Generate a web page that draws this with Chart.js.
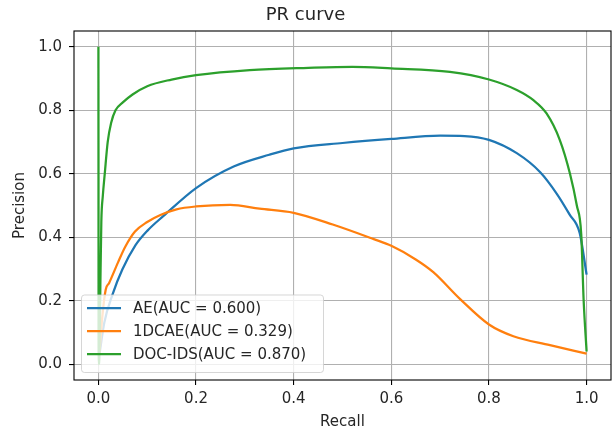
<!DOCTYPE html>
<html>
<head>
<meta charset="utf-8">
<script src="https://cdn.jsdelivr.net/npm/chart.js@4.4.0/dist/chart.umd.min.js"></script>
<style>
  body { margin: 0; background: #fff; }
  canvas { display: block; }
</style>
</head>
<body>
<canvas id="prChart" width="613" height="436"></canvas>
<script>
// PR curve values (recall, precision)
const aeRecall = [0.002, 0.012, 0.029, 0.049, 0.076, 0.1, 0.134, 0.2, 0.277, 0.35, 0.4, 0.5, 0.6, 0.7, 0.75, 0.8, 0.857, 0.905, 0.939, 0.965, 0.986, 1.0];
const aePrecision = [0.03, 0.13, 0.22, 0.298, 0.375, 0.42, 0.468, 0.555, 0.623, 0.66, 0.68, 0.697, 0.71, 0.72, 0.719, 0.707, 0.665, 0.605, 0.537, 0.472, 0.413, 0.282];

const cnnRecall = [0.002, 0.008, 0.015, 0.022, 0.04, 0.055, 0.075, 0.1, 0.127, 0.16, 0.2, 0.27, 0.33, 0.4, 0.48, 0.564, 0.6, 0.65, 0.686, 0.741, 0.8, 0.85, 0.925, 1.0];
const cnnPrecision = [0.03, 0.15, 0.235, 0.256, 0.32, 0.37, 0.418, 0.448, 0.47, 0.488, 0.497, 0.502, 0.49, 0.477, 0.44, 0.394, 0.373, 0.33, 0.29, 0.205, 0.125, 0.088, 0.06, 0.033];

const docRecall = [0.0, 0.0005, 0.002, 0.004, 0.006, 0.009, 0.013, 0.019, 0.026, 0.035, 0.05, 0.07, 0.1, 0.15, 0.2, 0.31, 0.43, 0.52, 0.6, 0.72, 0.8, 0.857, 0.891, 0.918, 0.945, 0.966, 0.98, 0.989, 0.994, 1.0];
const docPrecision = [1.0, 0.0, 0.02, 0.25, 0.45, 0.53, 0.6, 0.7, 0.76, 0.8, 0.825, 0.85, 0.876, 0.897, 0.911, 0.927, 0.934, 0.937, 0.932, 0.921, 0.897, 0.864, 0.832, 0.79, 0.707, 0.6, 0.5, 0.41, 0.2, 0.04];

const seriesLabels = ['AE(AUC = 0.600)', '1DCAE(AUC = 0.329)', 'DOC-IDS(AUC = 0.870)'];
const seriesColors = ['#1f77b4', '#ff7f0e', '#2ca02c'];
const tickValues = [0.0, 0.2, 0.4, 0.6, 0.8, 1.0];

const FONT = 'DejaVu Sans';
const TEXT = '#262626';

function toPoints(xs, ys) {
    return xs.map((x, i) => ({ x: x, y: ys[i] }));
}

// matplotlib style: full box around axes and legend inside lower left
const boxAndLegend = {
    id: 'boxAndLegend',
    afterDatasetsDraw(chart) {
        const { ctx, chartArea: a } = chart;
        ctx.save();
        ctx.strokeStyle = '#000';
        ctx.lineWidth = 1.1;
        ctx.strokeRect(a.left, a.top, a.right - a.left, a.bottom - a.top);

        // legend frame
        const lx = 81.5, ly = 295, lw = 242, lh = 77.5, r = 3;
        ctx.beginPath();
        ctx.moveTo(lx + r, ly);
        ctx.arcTo(lx + lw, ly, lx + lw, ly + lh, r);
        ctx.arcTo(lx + lw, ly + lh, lx, ly + lh, r);
        ctx.arcTo(lx, ly + lh, lx, ly, r);
        ctx.arcTo(lx, ly, lx + lw, ly, r);
        ctx.closePath();
        ctx.fillStyle = 'rgba(255,255,255,0.8)';
        ctx.fill();
        ctx.strokeStyle = 'rgba(204,204,204,0.8)';
        ctx.lineWidth = 1;
        ctx.stroke();

        ctx.font = '15px "' + FONT + '"';
        ctx.textBaseline = 'middle';
        ctx.textAlign = 'left';
        const rows = [308, 331, 354];
        seriesLabels.forEach((label, i) => {
            ctx.strokeStyle = seriesColors[i];
            ctx.lineWidth = 2.25;
            ctx.beginPath();
            ctx.moveTo(87, rows[i]);
            ctx.lineTo(121, rows[i]);
            ctx.stroke();
            ctx.fillStyle = TEXT;
            ctx.fillText(label, 133, rows[i] + 1);
        });
        ctx.restore();
    }
};

function axisOptions(titleText, isX) {
    return {
        type: 'linear',
        min: -0.05,
        max: 1.05,
        afterBuildTicks: (axis) => {
            axis.ticks = tickValues.map(v => ({ value: v }));
        },
        afterFit: (scale) => {
            if (isX) scale.height = 56;
            else scale.width = 74;
        },
        ticks: {
            color: TEXT,
            font: { family: FONT, size: 15 },
            padding: isX ? 5 : 7,
            callback: (v) => Number(v).toFixed(1)
        },
        grid: {
            color: '#b0b0b0',
            lineWidth: 1.1,
            tickColor: '#000',
            tickLength: 5,
            tickWidth: 1.1
        },
        border: { display: false },
        title: {
            display: true,
            text: titleText,
            color: TEXT,
            font: { family: FONT, size: 15 },
            padding: isX ? { top: 0, bottom: 5 } : { top: 11, bottom: 0 }
        }
    };
}

const ctx = document.getElementById('prChart').getContext('2d');
const chart = new Chart(ctx, {
    type: 'line',
    data: {
        datasets: [
            { label: seriesLabels[0], data: toPoints(aeRecall, aePrecision), borderColor: seriesColors[0], order: 2 },
            { label: seriesLabels[1], data: toPoints(cnnRecall, cnnPrecision), borderColor: seriesColors[1], order: 1 },
            { label: seriesLabels[2], data: toPoints(docRecall, docPrecision), borderColor: seriesColors[2], order: 0 }
        ]
    },
    options: {
        responsive: false,
        animation: false,
        devicePixelRatio: 1,
        parsing: false,
        elements: {
            line: { borderWidth: 2.25, cubicInterpolationMode: 'monotone', fill: false },
            point: { radius: 0, hoverRadius: 0 }
        },
        layout: { padding: { left: 0, right: 2, top: 0, bottom: 0 } },
        plugins: {
            legend: { display: false },
            tooltip: { enabled: false },
            title: {
                display: true,
                text: 'PR curve',
                color: TEXT,
                font: { family: FONT, size: 18, weight: 'normal' },
                padding: { top: 5, bottom: 4.4 }
            }
        },
        scales: {
            x: axisOptions('Recall', true),
            y: axisOptions('Precision', false)
        }
    },
    plugins: [boxAndLegend]
});
</script>
</body>
</html>
